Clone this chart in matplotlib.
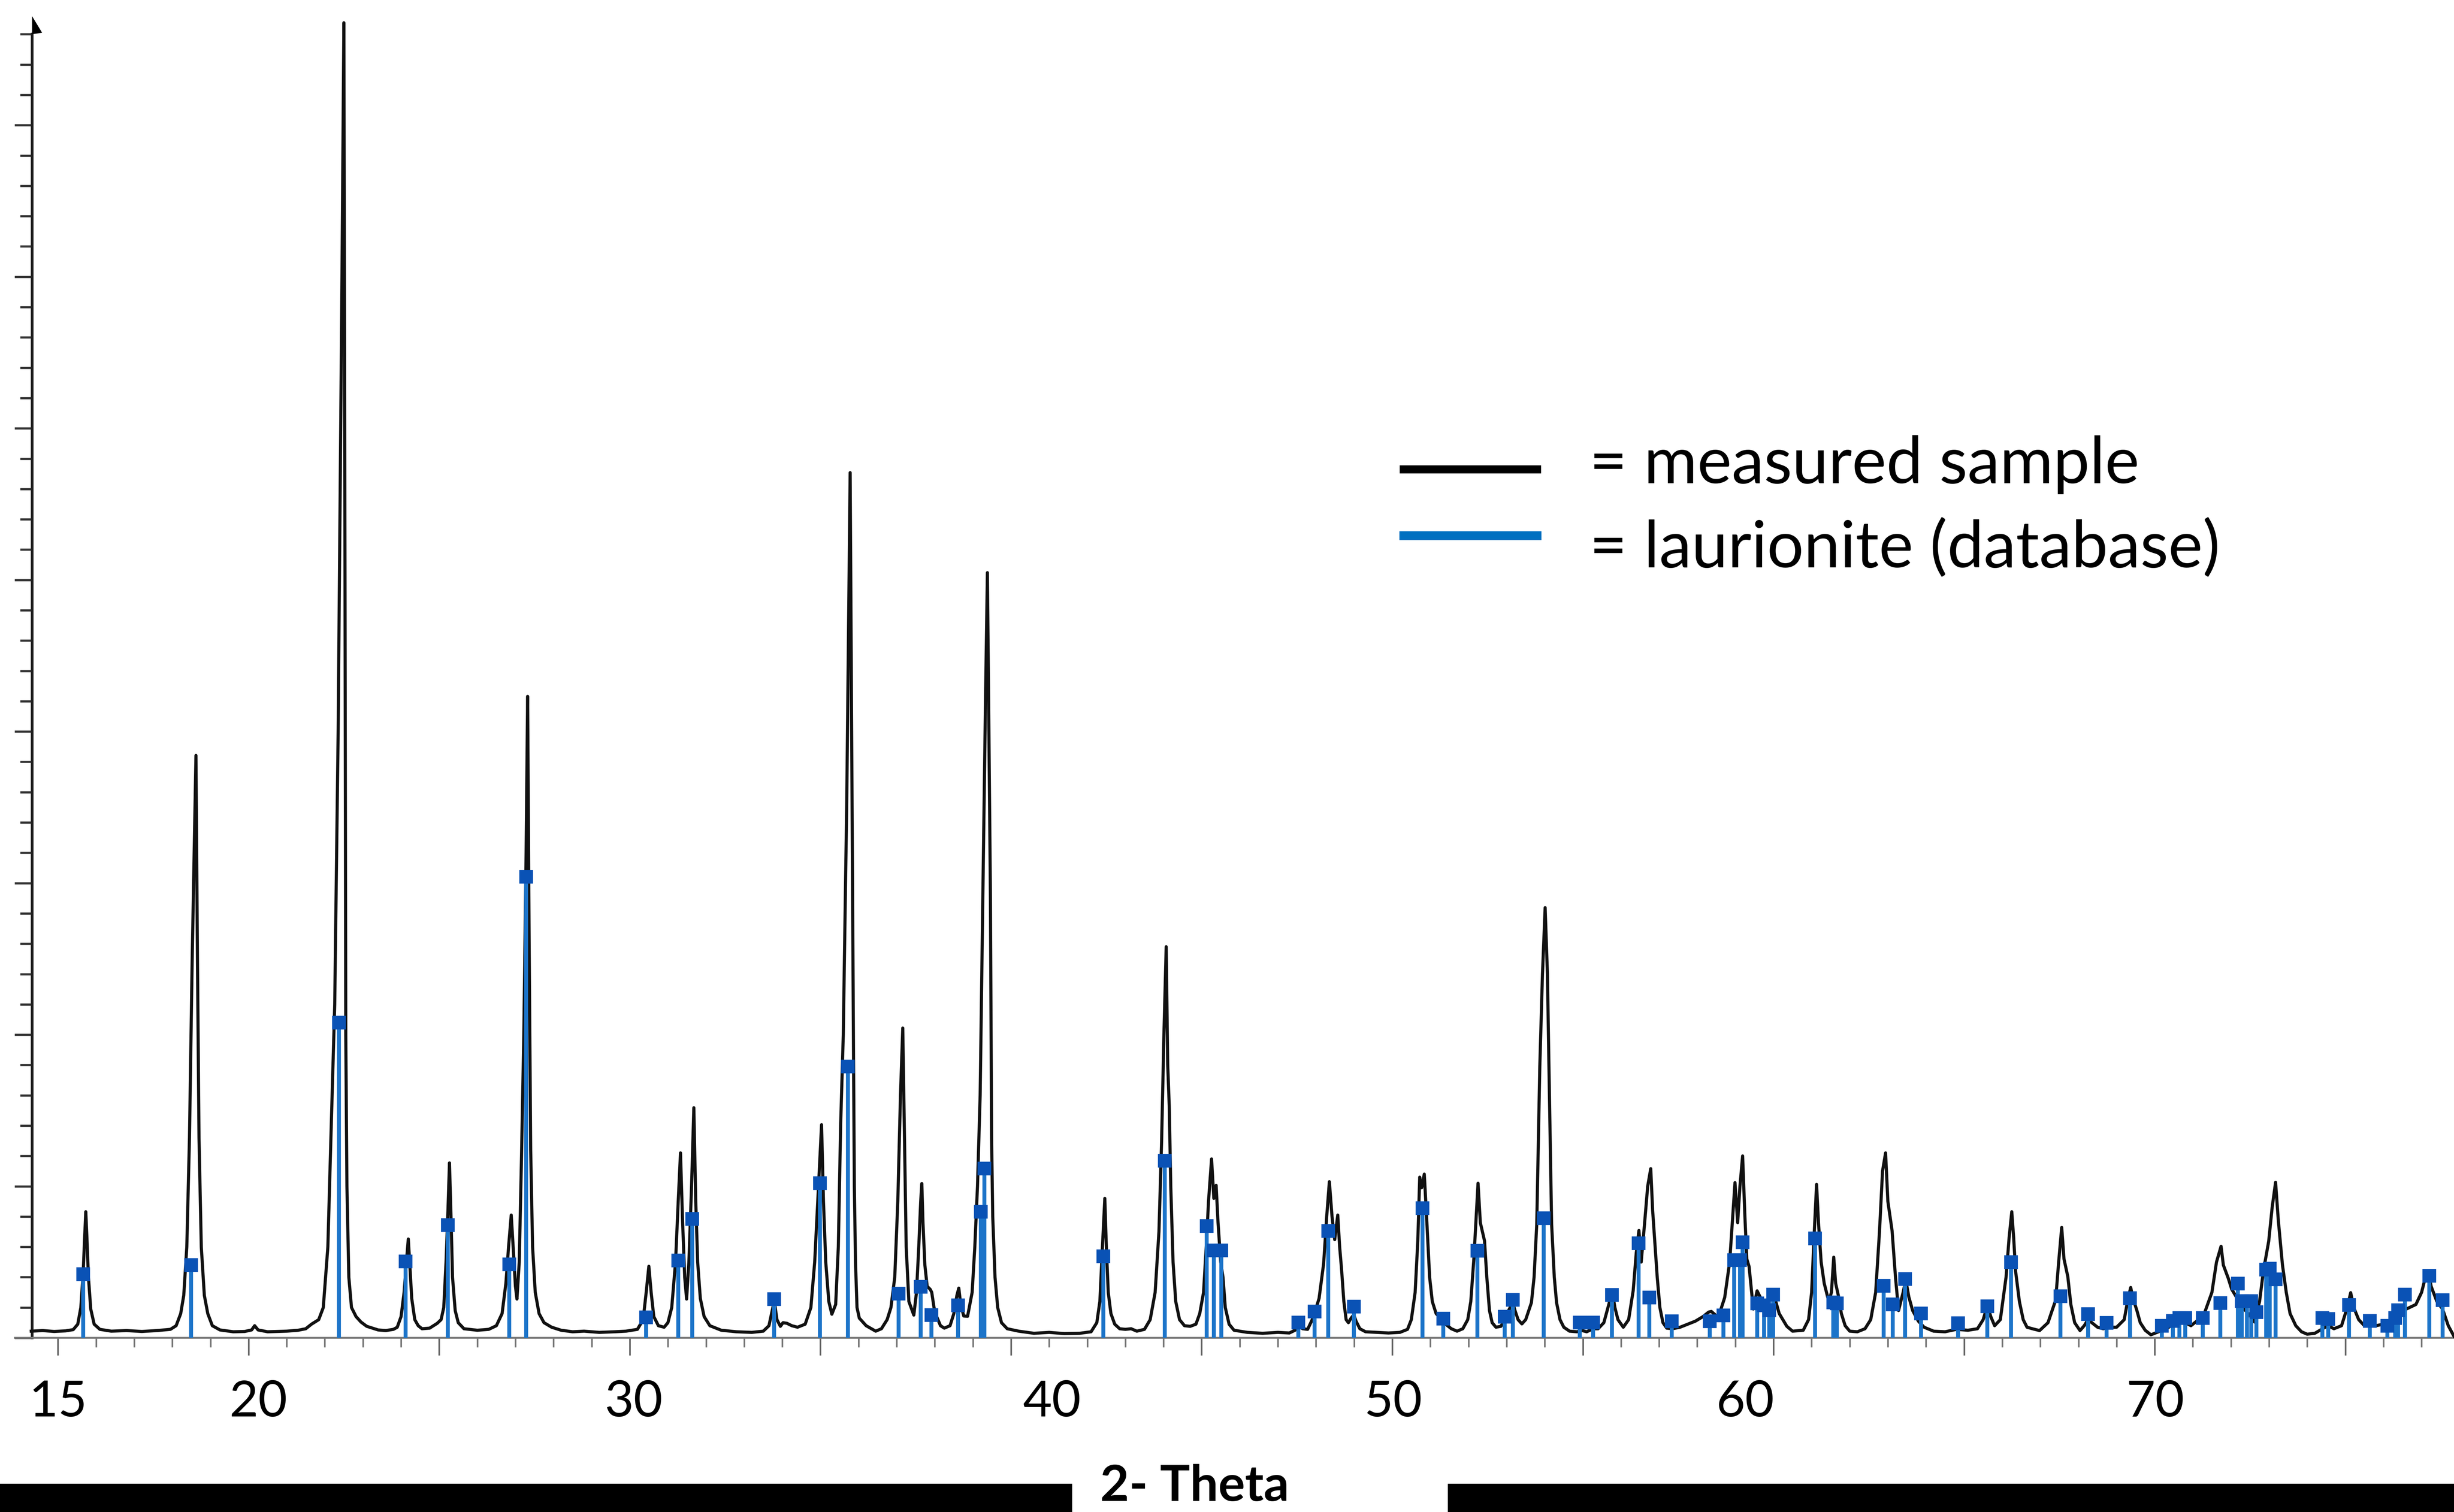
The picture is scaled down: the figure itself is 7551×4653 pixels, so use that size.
import numpy as np
import matplotlib
matplotlib.use("Agg")
import matplotlib.pyplot as plt
from matplotlib.lines import Line2D
from matplotlib.patches import Rectangle
from matplotlib.ticker import FixedLocator

plt.rcParams['font.family'] = ['Lato', 'DejaVu Sans']

# measured pattern (2theta in deg, counts)
measured = [
    (14.30, 22), (14.6, 24), (14.9, 21), (15.2, 23), (15.4, 27), (15.52, 45), (15.60, 100), (15.66, 210),
    (15.70, 330), (15.73, 416), (15.76, 330), (15.80, 200), (15.86, 95), (15.95, 45), (16.10, 28), (16.4, 22),
    (16.8, 24), (17.2, 21), (17.6, 24),
    (17.95, 28), (18.10, 40), (18.22, 80), (18.30, 140), (18.38, 300), (18.45, 660), (18.52, 1240), (18.62, 1921),
    (18.66, 1240), (18.70, 660), (18.76, 300), (18.84, 140), (18.93, 80), (19.05, 40), (19.25, 26), (19.6, 20),
    (19.9, 21), (20.08, 26), (20.16, 40), (20.25, 26), (20.5, 20), (21.0, 22), (21.3, 25), (21.5, 30), (21.65, 45),
    (21.84, 60), (21.96, 100), (22.08, 300), (22.16, 660), (22.26, 1100), (22.35, 2000), (22.45, 3500), (22.50, 4338),
    (22.53, 2500), (22.55, 1000), (22.58, 500), (22.63, 200), (22.70, 100), (22.82, 70), (22.95, 52), (23.10, 38),
    (23.4, 26), (23.6, 24), (23.8, 28),
    (23.90, 35), (24.00, 70), (24.08, 150), (24.14, 250), (24.19, 326), (24.23, 240), (24.28, 130), (24.36, 60),
    (24.45, 40), (24.55, 30), (24.75, 32), (24.95, 48), (25.05, 60),
    (25.12, 100), (25.18, 250), (25.23, 420), (25.27, 577), (25.31, 400), (25.35, 200), (25.42, 90), (25.50, 50),
    (25.65, 30), (26.0, 25), (26.3, 28), (26.5, 40), (26.65, 80), (26.75, 180), (26.82, 300), (26.89, 405),
    (26.95, 280), (27.00, 170), (27.04, 128), (27.10, 250),
    (27.16, 600), (27.22, 1000), (27.28, 1600), (27.32, 2116), (27.36, 1300), (27.40, 620), (27.45, 300), (27.52, 150),
    (27.62, 80), (27.75, 50), (27.95, 35), (28.2, 25), (28.5, 20), (28.8, 22), (29.2, 18), (29.6, 20), (29.9, 22),
    (30.2, 28), (30.35, 60),
    (30.43, 150), (30.50, 236), (30.56, 150), (30.63, 70), (30.75, 40), (30.90, 35), (31.00, 50), (31.10, 100),
    (31.20, 250), (31.27, 450), (31.33, 610), (31.38, 400), (31.44, 200), (31.49, 128), (31.55, 250), (31.62, 500),
    (31.68, 759), (31.73, 450), (31.78, 250), (31.85, 130), (31.95, 70), (32.1, 40), (32.4, 25), (32.8, 20),
    (33.2, 18), (33.5, 22), (33.65, 40),
    (33.79, 122), (33.86, 60), (33.95, 38), (34.02, 50), (34.12, 48), (34.25, 40), (34.40, 35), (34.60, 45),
    (34.75, 100), (34.85, 250), (34.95, 500), (35.03, 703), (35.08, 450), (35.14, 250), (35.22, 120), (35.30, 78),
    (35.40, 110),
    (35.47, 300), (35.53, 700), (35.60, 1000), (35.69, 1760), (35.78, 2854), (35.83, 1760), (35.87, 900), (35.89, 500),
    (35.92, 250), (35.96, 100), (36.02, 65), (36.2, 40), (36.45, 22), (36.6, 30), (36.75, 60), (36.85, 100),
    (36.95, 200), (37.03, 450), (37.10, 800), (37.16, 1022), (37.20, 700), (37.25, 300), (37.32, 120), (37.45, 75),
    (37.52, 150), (37.58, 300), (37.63, 450), (37.66, 509), (37.69, 380), (37.74, 240), (37.80, 170), (37.88, 160),
    (37.92, 150), (37.98, 100), (38.05, 70), (38.15, 40), (38.25, 32), (38.40, 40), (38.50, 80), (38.58, 140),
    (38.63, 164), (38.68, 110), (38.76, 72), (38.86, 71),
    (38.98, 150), (39.05, 300), (39.12, 500), (39.19, 800), (39.26, 1447), (39.33, 2100), (39.38, 2524), (39.42, 2000),
    (39.46, 1447), (39.49, 660), (39.52, 400), (39.58, 200), (39.65, 100), (39.75, 50), (39.9, 30), (40.2, 22),
    (40.6, 15), (41.0, 18), (41.4, 14), (41.8, 15), (42.1, 20),
    (42.25, 50), (42.33, 120), (42.39, 280), (42.46, 460), (42.50, 300), (42.55, 150), (42.62, 80), (42.72, 45),
    (42.85, 30), (43.0, 28), (43.15, 30), (43.3, 22), (43.5, 28), (43.65, 60), (43.78, 150), (43.88, 350),
    (43.95, 650), (44.01, 1000), (44.07, 1290), (44.11, 900), (44.15, 765), (44.19, 500), (44.25, 250), (44.32, 120),
    (44.42, 60), (44.55, 40), (44.70, 38), (44.85, 45), (44.95, 80),
    (45.05, 150), (45.12, 300), (45.18, 450), (45.26, 590), (45.32, 460), (45.38, 503), (45.43, 380), (45.50, 250),
    (45.56, 200), (45.62, 100), (45.72, 45), (45.85, 25), (46.2, 18), (46.6, 15), (47.0, 18), (47.3, 16),
    (47.45, 25), (47.54, 38), (47.65, 30), (47.78, 28), (47.90, 60), (47.99, 93), (48.08, 130), (48.20, 245),
    (48.28, 400),
    (48.35, 515), (48.42, 400), (48.49, 324), (48.57, 405), (48.62, 300), (48.67, 226), (48.73, 120), (48.79, 60),
    (48.85, 50), (48.92, 65), (48.99, 76), (49.05, 55), (49.15, 30), (49.3, 20), (49.6, 18), (49.9, 16), (50.2, 18),
    (50.4, 28), (50.5, 60), (50.6, 150), (50.67, 320),
    (50.72, 530), (50.77, 495), (50.84, 540), (50.90, 400), (50.98, 200), (51.05, 120), (51.15, 80), (51.30, 60),
    (51.40, 45), (51.55, 30), (51.70, 22), (51.85, 30), (51.98, 60), (52.06, 120), (52.14, 260), (52.25, 510),
    (52.31, 380), (52.42, 320), (52.48, 200), (52.55, 90), (52.62, 50), (52.72, 35), (52.85, 38), (52.95, 60),
    (53.05, 90), (53.16, 116), (53.22, 90), (53.30, 60), (53.40, 46), (53.50, 60),
    (53.58, 90), (53.65, 116), (53.72, 200), (53.79, 375), (53.87, 895), (53.94, 1200), (54.01, 1419), (54.07, 1200),
    (54.11, 895), (54.18, 375), (54.25, 200), (54.31, 116), (54.40, 60), (54.50, 35), (54.65, 22), (54.85, 20),
    (54.95, 25), (55.10, 20), (55.27, 30), (55.40, 30), (55.55, 50), (55.68, 110), (55.77, 154), (55.84, 100),
    (55.92, 60), (56.06, 35),
    (56.20, 60), (56.32, 156), (56.40, 280), (56.47, 354), (56.53, 250), (56.62, 380), (56.70, 500), (56.78, 558),
    (56.83, 420), (56.88, 328), (56.95, 200), (57.02, 100), (57.10, 50), (57.20, 32), (57.35, 30), (57.55, 35),
    (57.75, 45), (57.95, 55), (58.15, 70), (58.30, 85), (58.37, 87), (58.55, 67), (58.72, 133), (58.85, 250),
    (58.93, 400), (58.99, 512), (59.06, 380), (59.12, 500), (59.19, 600), (59.25, 400), (59.30, 260), (59.36, 235),
    (59.47, 95), (59.57, 155), (59.72, 117), (59.93, 90), (60.03, 133), (60.15, 80), (60.35, 38), (60.50, 22),
    (60.78, 25), (60.92, 60),
    (61.00, 150), (61.07, 350), (61.13, 506), (61.18, 380), (61.25, 250), (61.33, 180), (61.45, 120), (61.52, 150),
    (61.58, 266), (61.63, 180), (61.70, 140), (61.78, 80), (61.88, 40), (62.00, 22), (62.20, 20), (62.40, 30),
    (62.55, 60), (62.68, 150), (62.78, 350), (62.86, 550), (62.94, 610), (63.00, 450), (63.11, 354), (63.20, 200),
    (63.28, 90), (63.40, 150), (63.47, 191), (63.55, 135), (63.65, 90), (63.80, 55), (63.95, 35), (64.20, 22),
    (64.50, 20), (64.80, 28), (65.10, 25), (65.35, 30), (65.50, 60), (65.61, 107), (65.70, 70), (65.80, 40),
    (65.95, 60), (66.10, 200), (66.18, 330),
    (66.25, 416), (66.30, 330), (66.35, 220), (66.45, 120), (66.55, 60), (66.65, 35), (66.82, 29), (66.98, 24),
    (67.20, 50), (67.40, 124), (67.48, 250), (67.56, 364), (67.62, 260), (67.72, 202), (67.80, 110), (67.90, 50),
    (68.04, 24), (68.15, 40), (68.25, 60), (68.35, 50), (68.50, 35), (68.65, 30), (68.80, 35), (69.00, 35),
    (69.20, 60), (69.30, 130), (69.37, 166), (69.43, 130), (69.53, 91), (69.62, 50), (69.75, 25), (69.90, 10),
    (70.10, 20), (70.30, 30), (70.50, 45), (70.65, 55), (70.80, 50), (70.95, 40), (71.10, 55), (71.30, 80),
    (71.50, 150), (71.62, 250), (71.74, 302), (71.80, 240), (71.93, 196), (72.02, 160), (72.13, 137), (72.30, 100),
    (72.42, 85), (72.62, 52), (72.75, 120), (72.85, 220), (72.99, 319), (73.08, 430), (73.17, 513), (73.24, 390),
    (73.35, 241), (73.45, 150), (73.55, 80), (73.70, 40), (73.85, 20), (74.00, 12), (74.20, 15), (74.40, 30),
    (74.55, 40), (74.70, 30), (74.90, 40), (75.05, 100), (75.14, 149), (75.22, 100), (75.35, 60), (75.50, 40),
    (75.64, 50), (75.80, 40), (76.00, 45), (76.20, 55), (76.40, 70), (76.60, 95), (76.85, 110), (77.00, 150),
    (77.10, 200), (77.17, 222), (77.25, 170), (77.40, 120), (77.55, 95), (77.70, 40), (77.85, 5),
]

# laurionite database lines
ref_2theta = [15.66, 18.49, 22.37, 24.12, 25.23, 26.84, 27.28, 30.43, 31.27, 31.64, 33.79, 34.99, 35.72, 37.05,
              37.63, 37.91, 38.61, 39.21, 39.30, 42.42, 44.03, 45.13, 45.32, 45.52, 47.54, 47.96, 48.32, 48.99,
              50.79, 51.34, 52.23, 52.95, 53.16, 53.97, 54.92, 55.27, 55.76, 56.46, 56.74, 57.33, 58.33, 58.69,
              58.97, 59.12, 59.19, 59.57, 59.75, 59.89, 59.99, 61.09, 61.57, 61.66, 62.89, 63.13, 63.45, 63.87,
              64.84, 65.61, 66.23, 67.53, 68.25, 68.74, 69.35, 70.19, 70.48, 70.65, 70.80, 71.26, 71.72, 72.18,
              72.28, 72.42, 72.53, 72.67, 72.92, 73.02, 73.17, 74.40, 74.55, 75.10, 75.64, 76.10, 76.31, 76.38,
              76.56, 77.20, 77.55]
ref_counts = [210, 240, 1040, 252, 372, 242, 1521, 68, 255, 392, 128, 510, 895, 146,
              168, 75, 107, 416, 558, 269, 584, 369, 288, 288, 50, 87, 353, 103,
              428, 63, 287, 70, 125, 394, 50, 50, 141, 312, 133, 55, 55, 74,
              256, 256, 315, 114, 107, 91, 143, 328, 117, 114, 171, 110, 194, 80,
              48, 104, 250, 137, 78, 49, 131, 40, 56, 65, 65, 65, 115, 179,
              121, 121, 121, 85, 225, 228, 193, 65, 62, 108, 56, 40, 65, 91,
              143, 205, 124]

# tick labels as they sit on the original figure
tick_labels = ['15', '20', '30', '40', '50', '60', '70']
tick_label_pos = [15.0, 20.26, 30.1, 41.07, 50.02, 59.26, 70.02]

W, H, DPI = 7551, 4653, 300
fig = plt.figure(figsize=(W / DPI, H / DPI), dpi=DPI)
ax = fig.add_axes([0, 0, 1, 1])

theta, counts = np.array(measured).T
ax.plot(theta, counts, color='#111111', lw=2.3, solid_joinstyle='round', zorder=3)
ax.vlines(ref_2theta, 0, ref_counts, color='#1C74C9', lw=2.9, zorder=4)
ax.plot(ref_2theta, ref_counts, 's', ms=9, color='#0A52B5', zorder=5)

y_axis_x = 14.32
ax.set_xlim(13.48, 77.85)
ax.set_ylim(-574.5, 4413)
ax.spines['top'].set_visible(False)
ax.spines['right'].set_visible(False)
ax.spines['bottom'].set_position(('data', 0))
ax.spines['bottom'].set_bounds(13.87, 77.85)
ax.spines['bottom'].set_color('#7a7a7a')
ax.spines['bottom'].set_linewidth(1.4)
ax.spines['left'].set_position(('data', y_axis_x))
ax.spines['left'].set_bounds(0, 4300)
ax.spines['left'].set_linewidth(2.0)
ax.spines['left'].set_color('#222222')

ax.xaxis.set_major_locator(FixedLocator(np.arange(15, 78, 5)))
ax.xaxis.set_minor_locator(FixedLocator(np.arange(15, 78, 1)))
ax.tick_params(axis='x', which='major', length=13, width=1.2, color='#666666', labelbottom=False)
ax.tick_params(axis='x', which='minor', length=7, width=1.2, color='#777777')
ax.yaxis.set_major_locator(FixedLocator(np.arange(0, 4301, 500)))
ax.yaxis.set_minor_locator(FixedLocator(np.arange(0, 4301, 100)))
ax.tick_params(axis='y', which='major', length=13, width=1.6, color='#333333', labelleft=False)
ax.tick_params(axis='y', which='minor', length=9, width=1.6, color='#333333')

# half arrow head on top of the intensity axis
ax.fill([y_axis_x, y_axis_x, y_axis_x + 0.265], [4300, 4360, 4305], color='black', lw=0, zorder=6)

# labels sit on their own axis so they can follow the original placement
loc = 574.5 / (4413 + 574.5)
sec = ax.secondary_xaxis(loc)
sec.spines['bottom'].set_visible(False)
sec.set_xticks(tick_label_pos, tick_labels)
sec.tick_params(length=0, pad=31, labelsize=37)

# legend
fig.add_artist(Line2D([0.5720, 0.6263], [0.6897, 0.6897], color='black', lw=6, transform=fig.transFigure))
fig.add_artist(Line2D([0.5720, 0.6263], [0.6458, 0.6458], color='#0070C0', lw=6.5, transform=fig.transFigure))
fig.text(0.6477, 0.6804, '= measured sample', fontsize=48, va='baseline')
fig.text(0.6477, 0.6248, '= laurionite (database)', fontsize=48, va='baseline')

# bottom bar with the axis title
fig.add_artist(Rectangle((0, 0), 0.4369, 0.0187, transform=fig.transFigure, color='black', lw=0))
fig.add_artist(Rectangle((0.590, 0), 0.41, 0.0187, transform=fig.transFigure, color='black', lw=0))
fig.text(0.4868, 0.0168, '2- Theta', ha='center', va='center', fontsize=37, fontweight='bold')

fig.savefig('out.png', dpi=DPI)
